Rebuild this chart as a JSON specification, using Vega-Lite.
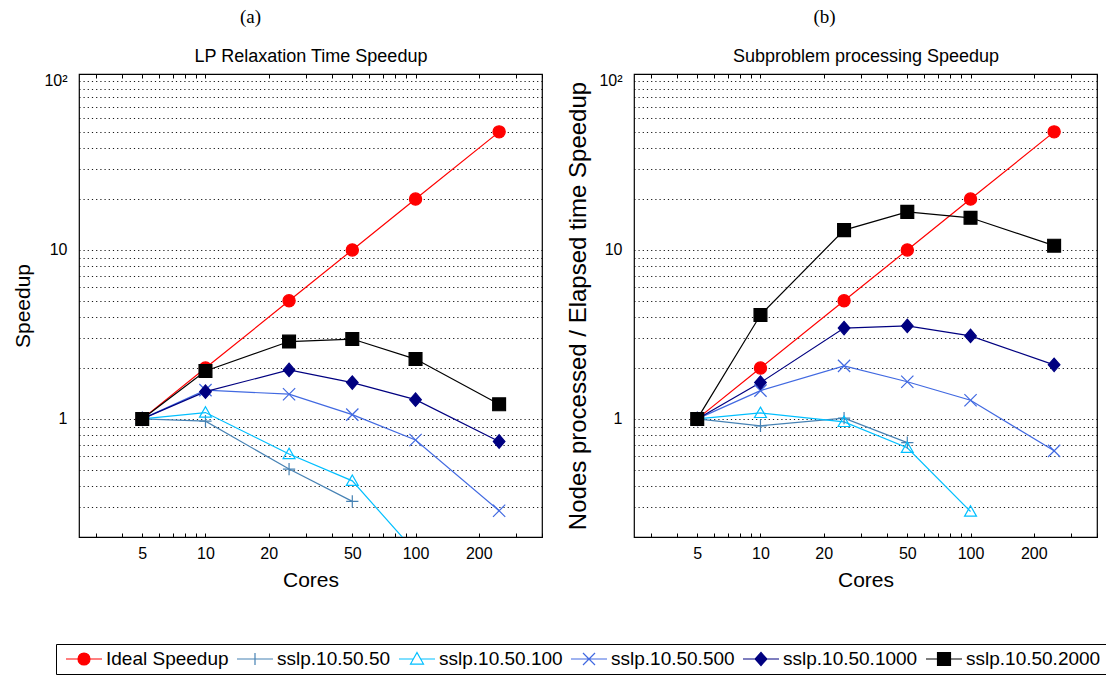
{
  "$schema": "https://vega.github.io/schema/vega-lite/v6.json",
  "padding": {"left": 12, "top": 6, "right": 0, "bottom": 0},
  "datasets": {
    "speed": [
      {"panel": "a", "series": "Ideal Speedup", "cores": 5, "speedup": 1},
      {"panel": "a", "series": "Ideal Speedup", "cores": 10, "speedup": 2},
      {"panel": "a", "series": "Ideal Speedup", "cores": 25, "speedup": 5},
      {"panel": "a", "series": "Ideal Speedup", "cores": 50, "speedup": 10},
      {"panel": "a", "series": "Ideal Speedup", "cores": 100, "speedup": 20},
      {"panel": "a", "series": "Ideal Speedup", "cores": 250, "speedup": 50},
      {"panel": "a", "series": "sslp.10.50.50", "cores": 5, "speedup": 1},
      {"panel": "a", "series": "sslp.10.50.50", "cores": 10, "speedup": 0.97},
      {"panel": "a", "series": "sslp.10.50.50", "cores": 25, "speedup": 0.505},
      {"panel": "a", "series": "sslp.10.50.50", "cores": 50, "speedup": 0.325},
      {"panel": "a", "series": "sslp.10.50.100", "cores": 5, "speedup": 1},
      {"panel": "a", "series": "sslp.10.50.100", "cores": 10, "speedup": 1.09},
      {"panel": "a", "series": "sslp.10.50.100", "cores": 25, "speedup": 0.62},
      {"panel": "a", "series": "sslp.10.50.100", "cores": 50, "speedup": 0.43},
      {"panel": "a", "series": "sslp.10.50.100", "cores": 100, "speedup": 0.163},
      {"panel": "a", "series": "sslp.10.50.500", "cores": 5, "speedup": 1},
      {"panel": "a", "series": "sslp.10.50.500", "cores": 10, "speedup": 1.48},
      {"panel": "a", "series": "sslp.10.50.500", "cores": 25, "speedup": 1.4},
      {"panel": "a", "series": "sslp.10.50.500", "cores": 50, "speedup": 1.06},
      {"panel": "a", "series": "sslp.10.50.500", "cores": 100, "speedup": 0.75},
      {"panel": "a", "series": "sslp.10.50.500", "cores": 250, "speedup": 0.286},
      {"panel": "a", "series": "sslp.10.50.1000", "cores": 5, "speedup": 1},
      {"panel": "a", "series": "sslp.10.50.1000", "cores": 10, "speedup": 1.45},
      {"panel": "a", "series": "sslp.10.50.1000", "cores": 25, "speedup": 1.95},
      {"panel": "a", "series": "sslp.10.50.1000", "cores": 50, "speedup": 1.64},
      {"panel": "a", "series": "sslp.10.50.1000", "cores": 100, "speedup": 1.3},
      {"panel": "a", "series": "sslp.10.50.1000", "cores": 250, "speedup": 0.735},
      {"panel": "a", "series": "sslp.10.50.2000", "cores": 5, "speedup": 1},
      {"panel": "a", "series": "sslp.10.50.2000", "cores": 10, "speedup": 1.92},
      {"panel": "a", "series": "sslp.10.50.2000", "cores": 25, "speedup": 2.87},
      {"panel": "a", "series": "sslp.10.50.2000", "cores": 50, "speedup": 2.97},
      {"panel": "a", "series": "sslp.10.50.2000", "cores": 100, "speedup": 2.26},
      {"panel": "a", "series": "sslp.10.50.2000", "cores": 250, "speedup": 1.22},
      {"panel": "b", "series": "Ideal Speedup", "cores": 5, "speedup": 1},
      {"panel": "b", "series": "Ideal Speedup", "cores": 10, "speedup": 2},
      {"panel": "b", "series": "Ideal Speedup", "cores": 25, "speedup": 5},
      {"panel": "b", "series": "Ideal Speedup", "cores": 50, "speedup": 10},
      {"panel": "b", "series": "Ideal Speedup", "cores": 100, "speedup": 20},
      {"panel": "b", "series": "Ideal Speedup", "cores": 250, "speedup": 50},
      {"panel": "b", "series": "sslp.10.50.50", "cores": 5, "speedup": 1},
      {"panel": "b", "series": "sslp.10.50.50", "cores": 10, "speedup": 0.91},
      {"panel": "b", "series": "sslp.10.50.50", "cores": 25, "speedup": 1.01},
      {"panel": "b", "series": "sslp.10.50.50", "cores": 50, "speedup": 0.724},
      {"panel": "b", "series": "sslp.10.50.100", "cores": 5, "speedup": 1},
      {"panel": "b", "series": "sslp.10.50.100", "cores": 10, "speedup": 1.085},
      {"panel": "b", "series": "sslp.10.50.100", "cores": 25, "speedup": 0.96},
      {"panel": "b", "series": "sslp.10.50.100", "cores": 50, "speedup": 0.675},
      {"panel": "b", "series": "sslp.10.50.100", "cores": 100, "speedup": 0.283},
      {"panel": "b", "series": "sslp.10.50.500", "cores": 5, "speedup": 1},
      {"panel": "b", "series": "sslp.10.50.500", "cores": 10, "speedup": 1.47},
      {"panel": "b", "series": "sslp.10.50.500", "cores": 25, "speedup": 2.06},
      {"panel": "b", "series": "sslp.10.50.500", "cores": 50, "speedup": 1.66},
      {"panel": "b", "series": "sslp.10.50.500", "cores": 100, "speedup": 1.29},
      {"panel": "b", "series": "sslp.10.50.500", "cores": 250, "speedup": 0.647},
      {"panel": "b", "series": "sslp.10.50.1000", "cores": 5, "speedup": 1},
      {"panel": "b", "series": "sslp.10.50.1000", "cores": 10, "speedup": 1.64},
      {"panel": "b", "series": "sslp.10.50.1000", "cores": 25, "speedup": 3.45},
      {"panel": "b", "series": "sslp.10.50.1000", "cores": 50, "speedup": 3.55},
      {"panel": "b", "series": "sslp.10.50.1000", "cores": 100, "speedup": 3.1},
      {"panel": "b", "series": "sslp.10.50.1000", "cores": 250, "speedup": 2.09},
      {"panel": "b", "series": "sslp.10.50.2000", "cores": 5, "speedup": 1},
      {"panel": "b", "series": "sslp.10.50.2000", "cores": 10, "speedup": 4.12},
      {"panel": "b", "series": "sslp.10.50.2000", "cores": 25, "speedup": 13.1},
      {"panel": "b", "series": "sslp.10.50.2000", "cores": 50, "speedup": 16.8},
      {"panel": "b", "series": "sslp.10.50.2000", "cores": 100, "speedup": 15.5},
      {"panel": "b", "series": "sslp.10.50.2000", "cores": 250, "speedup": 10.6}
    ]
  },
  "spacing": 22,
  "hconcat": [
    {
      "data": {"name": "speed"},
      "transform": [{"filter": "datum.panel === 'a'"}],
      "width": 463,
      "height": 463,
      "title": {"text": "(a)", "font": "Liberation Serif", "fontSize": 19, "fontWeight": "normal", "color": "#000", "anchor": "middle", "dx": -60, "offset": 21},
      "resolve": {"axis": {"x": "independent", "y": "independent"}},
      "layer": [
        {
          "mark": {"type": "line", "strokeWidth": 1.2, "clip": true},
          "encoding": {
            "x": {"field": "cores", "type": "quantitative", "scale": {"type": "log", "domain": [2.5, 400]},
              "axis": {"orient": "bottom", "values": [3,4,5,6,7,8,9,10,20,30,40,50,60,70,80,90,100,200,300,400], "labelExpr": "indexof([5,10,20,50,100,200], datum.value) >= 0 ? format(datum.value, 'd') : ''", "labelOverlap": false, "labelFlush": false, "tickSize": -4, "domain": false, "grid": false, "labelPadding": 12, "title": "Cores", "titleFontSize": 21, "titlePadding": 8}},
            "y": {"field": "speedup", "type": "quantitative", "scale": {"type": "log", "domain": [0.2, 110]},
              "axis": {"orient": "left", "values": [1, 10, 100], "labelExpr": "datum.value >= 100 ? '10²' : format(datum.value, 'd')", "labelOverlap": false, "labelFlush": false, "grid": false, "ticks": false, "domain": false, "labelPadding": 12, "title": "Speedup", "titleFontSize": 21, "titlePadding": 10}},
            "color": {"field": "series", "type": "nominal", "legend": null,
              "scale": {"domain": ["Ideal Speedup", "sslp.10.50.50", "sslp.10.50.100", "sslp.10.50.500", "sslp.10.50.1000", "sslp.10.50.2000"], "range": ["#ff0000", "#4682b4", "#00bfff", "#4169e1", "#000080", "#000000"]}}
          }
        },
        {
          "mark": {"type": "point", "size": 150, "strokeWidth": 1.2, "opacity": 1, "clip": true},
          "encoding": {
            "x": {"field": "cores", "type": "quantitative", "scale": {"type": "log", "domain": [2.5, 400]},
              "axis": {"orient": "top", "values": [3,4,5,6,7,8,9,10,20,30,40,50,60,70,80,90,100,200,300,400], "labels": false, "tickSize": -4, "domain": false, "grid": false, "title": "LP Relaxation Time Speedup", "titleFontSize": 18, "titlePadding": 8}},
            "y": {"field": "speedup", "type": "quantitative", "scale": {"type": "log", "domain": [0.2, 110]},
              "axis": {"orient": "right", "values": [0.2,0.3,0.4,0.5,0.6,0.7,0.8,0.9,1,2,3,4,5,6,7,8,9,10,20,30,40,50,60,70,80,90,100], "grid": true, "gridDash": [1.2, 3], "gridColor": "#000", "gridOpacity": 0.9, "gridWidth": 1, "labels": false, "ticks": false, "domain": false, "title": null}},
            "stroke": {"field": "series", "type": "nominal",
              "scale": {"domain": ["Ideal Speedup", "sslp.10.50.50", "sslp.10.50.100", "sslp.10.50.500", "sslp.10.50.1000", "sslp.10.50.2000", "L1", "L2", "L3", "L4", "L5", "L6"], "range": ["#ff0000", "#4682b4", "#00bfff", "#4169e1", "#000080", "#000000", "#ff0000", "#4682b4", "#00bfff", "#4169e1", "#000080", "#000000"]},
              "legend": {"orient": "none", "legendX": -23, "legendY": 570, "direction": "horizontal", "columns": 6, "title": null,
                "values": ["L1", "L2", "L3", "L4", "L5", "L6"],
                "labelExpr": "['Ideal Speedup','sslp.10.50.50','sslp.10.50.100','sslp.10.50.500','sslp.10.50.1000','sslp.10.50.2000'][indexof(['L1','L2','L3','L4','L5','L6'], datum.value)]",
                "strokeColor": "#000", "fillColor": "#fff", "padding": 5,
                "labelFont": "Liberation Sans", "labelFontSize": 19, "labelColor": "#000",
                "symbolSize": 324, "symbolOffset": 13, "labelOffset": 12, "columnPadding": 3, "symbolStrokeWidth": 1.2, "symbolFillColor": "transparent"}},
            "fill": {"field": "series", "type": "nominal",
              "scale": {"domain": ["Ideal Speedup", "sslp.10.50.50", "sslp.10.50.100", "sslp.10.50.500", "sslp.10.50.1000", "sslp.10.50.2000", "L1", "L2", "L3", "L4", "L5", "L6"], "range": ["#ff0000", "transparent", "transparent", "transparent", "#000080", "#000000", "#ff0000", "transparent", "transparent", "transparent", "#000080", "#000000"]},
              "legend": {"orient": "none", "legendX": -23, "legendY": 570, "direction": "horizontal", "columns": 6, "title": null,
                "values": ["L1", "L2", "L3", "L4", "L5", "L6"],
                "labelExpr": "['Ideal Speedup','sslp.10.50.50','sslp.10.50.100','sslp.10.50.500','sslp.10.50.1000','sslp.10.50.2000'][indexof(['L1','L2','L3','L4','L5','L6'], datum.value)]",
                "strokeColor": "#000", "fillColor": "#fff", "padding": 5,
                "labelFont": "Liberation Sans", "labelFontSize": 19, "labelColor": "#000",
                "symbolSize": 324, "symbolOffset": 13, "labelOffset": 12, "columnPadding": 3, "symbolStrokeWidth": 1.2, "symbolFillColor": "transparent"}},
            "shape": {"field": "series", "type": "nominal",
              "scale": {"domain": ["Ideal Speedup", "sslp.10.50.50", "sslp.10.50.100", "sslp.10.50.500", "sslp.10.50.1000", "sslp.10.50.2000", "L1", "L2", "L3", "L4", "L5", "L6"], "range": ["circle", "M-1,0H1M0,-1V1", "M0,-0.95L0.97,0.75H-0.97Z", "M-1,-1L1,1M-1,1L1,-1", "M0,-1.1L0.95,0L0,1.1L-0.95,0Z", "M-1.05,-1.05H1.05V1.05H-1.05Z",
                "M-2,0H2M-0.667,0A0.667,0.667,0,1,0,0.667,0A0.667,0.667,0,1,0,-0.667,0Z", "M-2,0H2M0,-0.667V0.667", "M-2,0H-0.405M0.405,0H2M0,-0.72L0.72,0.56H-0.72Z", "M-2,0H2M-0.667,-0.667L0.667,0.667M-0.667,0.667L0.667,-0.667", "M-2,0H2M0,-0.72L0.65,0L0,0.72L-0.65,0Z", "M-2,0H2M-0.72,-0.72H0.72V0.72H-0.72Z"]},
              "legend": {"orient": "none", "legendX": -23, "legendY": 570, "direction": "horizontal", "columns": 6, "title": null,
                "values": ["L1", "L2", "L3", "L4", "L5", "L6"],
                "labelExpr": "['Ideal Speedup','sslp.10.50.50','sslp.10.50.100','sslp.10.50.500','sslp.10.50.1000','sslp.10.50.2000'][indexof(['L1','L2','L3','L4','L5','L6'], datum.value)]",
                "strokeColor": "#000", "fillColor": "#fff", "padding": 5,
                "labelFont": "Liberation Sans", "labelFontSize": 19, "labelColor": "#000",
                "symbolSize": 324, "symbolOffset": 13, "labelOffset": 12, "columnPadding": 3, "symbolStrokeWidth": 1.2, "symbolFillColor": "transparent"}}
          }
        }
      ]
    },
    {
      "data": {"name": "speed"},
      "transform": [{"filter": "datum.panel === 'b'"}],
      "width": 463,
      "height": 463,
      "title": {"text": "(b)", "font": "Liberation Serif", "fontSize": 19, "fontWeight": "normal", "color": "#000", "anchor": "middle", "dx": -41, "offset": 21},
      "resolve": {"axis": {"x": "independent", "y": "independent"}},
      "layer": [
        {
          "mark": {"type": "line", "strokeWidth": 1.2, "clip": true},
          "encoding": {
            "x": {"field": "cores", "type": "quantitative", "scale": {"type": "log", "domain": [2.5, 400]},
              "axis": {"orient": "bottom", "values": [3,4,5,6,7,8,9,10,20,30,40,50,60,70,80,90,100,200,300,400], "labelExpr": "indexof([5,10,20,50,100,200], datum.value) >= 0 ? format(datum.value, 'd') : ''", "labelOverlap": false, "labelFlush": false, "tickSize": -4, "domain": false, "grid": false, "labelPadding": 12, "title": "Cores", "titleFontSize": 21, "titlePadding": 8}},
            "y": {"field": "speedup", "type": "quantitative", "scale": {"type": "log", "domain": [0.2, 110]},
              "axis": {"orient": "left", "values": [1, 10, 100], "labelExpr": "datum.value >= 100 ? '10²' : format(datum.value, 'd')", "labelOverlap": false, "labelFlush": false, "grid": false, "ticks": false, "domain": false, "labelPadding": 12, "title": "Nodes processed / Elapsed time Speedup", "titleFontSize": 24, "titlePadding": 8}},
            "color": {"field": "series", "type": "nominal", "legend": null,
              "scale": {"domain": ["Ideal Speedup", "sslp.10.50.50", "sslp.10.50.100", "sslp.10.50.500", "sslp.10.50.1000", "sslp.10.50.2000"], "range": ["#ff0000", "#4682b4", "#00bfff", "#4169e1", "#000080", "#000000"]}}
          }
        },
        {
          "mark": {"type": "point", "size": 150, "strokeWidth": 1.2, "opacity": 1, "clip": true},
          "encoding": {
            "x": {"field": "cores", "type": "quantitative", "scale": {"type": "log", "domain": [2.5, 400]},
              "axis": {"orient": "top", "values": [3,4,5,6,7,8,9,10,20,30,40,50,60,70,80,90,100,200,300,400], "labels": false, "tickSize": -4, "domain": false, "grid": false, "title": "Subproblem processing Speedup", "titleFontSize": 18, "titlePadding": 8}},
            "y": {"field": "speedup", "type": "quantitative", "scale": {"type": "log", "domain": [0.2, 110]},
              "axis": {"orient": "right", "values": [0.2,0.3,0.4,0.5,0.6,0.7,0.8,0.9,1,2,3,4,5,6,7,8,9,10,20,30,40,50,60,70,80,90,100], "grid": true, "gridDash": [1.2, 3], "gridColor": "#000", "gridOpacity": 0.9, "gridWidth": 1, "labels": false, "ticks": false, "domain": false, "title": null}},
            "stroke": {"field": "series", "type": "nominal", "legend": null,
              "scale": {"domain": ["Ideal Speedup", "sslp.10.50.50", "sslp.10.50.100", "sslp.10.50.500", "sslp.10.50.1000", "sslp.10.50.2000", "L1", "L2", "L3", "L4", "L5", "L6"], "range": ["#ff0000", "#4682b4", "#00bfff", "#4169e1", "#000080", "#000000", "#ff0000", "#4682b4", "#00bfff", "#4169e1", "#000080", "#000000"]}},
            "fill": {"field": "series", "type": "nominal", "legend": null,
              "scale": {"domain": ["Ideal Speedup", "sslp.10.50.50", "sslp.10.50.100", "sslp.10.50.500", "sslp.10.50.1000", "sslp.10.50.2000", "L1", "L2", "L3", "L4", "L5", "L6"], "range": ["#ff0000", "transparent", "transparent", "transparent", "#000080", "#000000", "#ff0000", "transparent", "transparent", "transparent", "#000080", "#000000"]}},
            "shape": {"field": "series", "type": "nominal", "legend": null,
              "scale": {"domain": ["Ideal Speedup", "sslp.10.50.50", "sslp.10.50.100", "sslp.10.50.500", "sslp.10.50.1000", "sslp.10.50.2000", "L1", "L2", "L3", "L4", "L5", "L6"], "range": ["circle", "M-1,0H1M0,-1V1", "M0,-0.95L0.97,0.75H-0.97Z", "M-1,-1L1,1M-1,1L1,-1", "M0,-1.1L0.95,0L0,1.1L-0.95,0Z", "M-1.05,-1.05H1.05V1.05H-1.05Z",
                "M-2,0H2M-0.667,0A0.667,0.667,0,1,0,0.667,0A0.667,0.667,0,1,0,-0.667,0Z", "M-2,0H2M0,-0.667V0.667", "M-2,0H-0.405M0.405,0H2M0,-0.72L0.72,0.56H-0.72Z", "M-2,0H2M-0.667,-0.667L0.667,0.667M-0.667,0.667L0.667,-0.667", "M-2,0H2M0,-0.72L0.65,0L0,0.72L-0.65,0Z", "M-2,0H2M-0.72,-0.72H0.72V0.72H-0.72Z"]}}
          }
        }
      ]
    }
  ],
  "config": {
    "font": "Liberation Sans",
    "background": "#ffffff",
    "view": {"stroke": "#000", "strokeWidth": 1.2},
    "axis": {"labelFont": "Liberation Sans", "labelFontSize": 16, "labelColor": "#000", "titleFont": "Liberation Sans", "titleFontWeight": "normal", "titleColor": "#000", "tickColor": "#000", "tickWidth": 1},
    "title": {"color": "#000"}
  }
}
